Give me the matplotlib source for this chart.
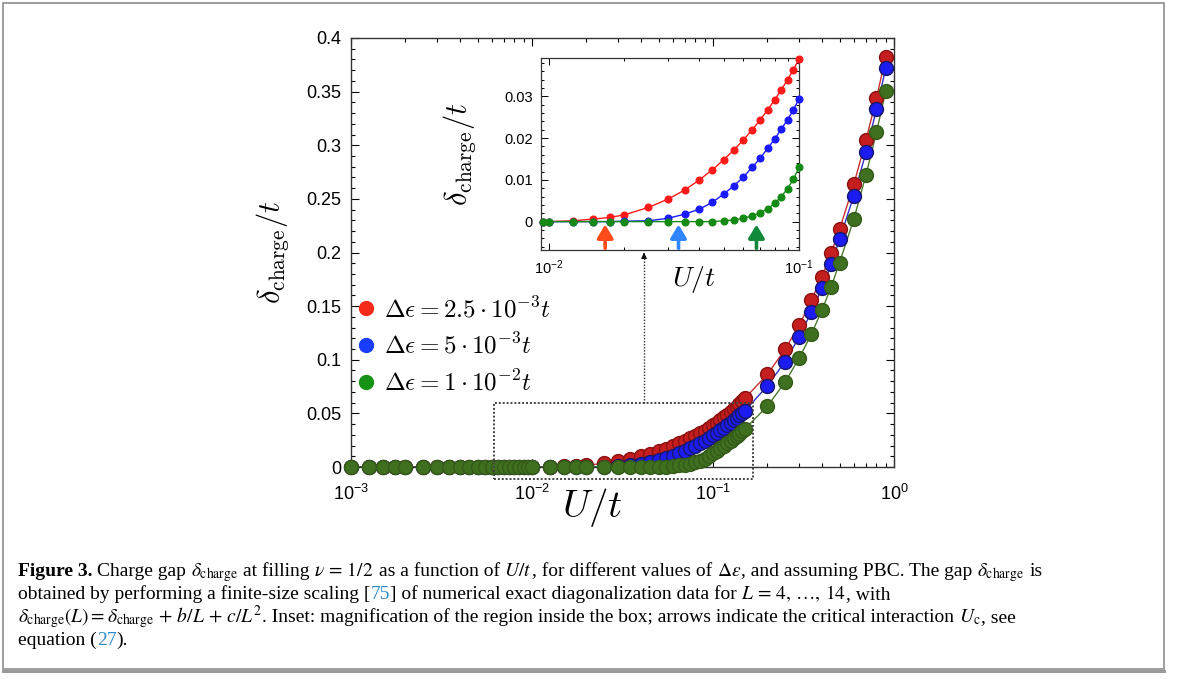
import numpy as np
import matplotlib
matplotlib.use('Agg')
import matplotlib.pyplot as plt
from matplotlib.lines import Line2D
from matplotlib.patches import Rectangle
from matplotlib.ticker import LogLocator, MultipleLocator, FuncFormatter, NullFormatter

plt.rcParams['font.family'] = ['Liberation Sans', 'DejaVu Sans']
plt.rcParams['mathtext.fontset'] = 'cm'

# interaction strength U/t
u_vals = [0.001, 0.00125, 0.0015, 0.00175, 0.002, 0.0025, 0.003, 0.0035, 0.004, 0.0045,
          0.005, 0.0055, 0.006, 0.0065, 0.007, 0.0075, 0.008, 0.0085, 0.009, 0.0095,
          0.01, 0.0125, 0.015, 0.0175, 0.02, 0.025, 0.03, 0.035, 0.04, 0.045,
          0.05, 0.055, 0.06, 0.065, 0.07, 0.075, 0.08, 0.085, 0.09, 0.095,
          0.1, 0.105, 0.11, 0.115, 0.12, 0.125, 0.13, 0.135, 0.14, 0.145,
          0.15, 0.2, 0.25, 0.3, 0.35, 0.4, 0.45, 0.5, 0.6, 0.7, 0.8, 0.9]

# charge gap / t, delta eps = 2.5e-3 t
gap_a = [0.0, 0.0, 0.0, 0.0, 0.0, 0.0, 0.0, 0.0, 0.0, 0.0,
         0.0, 0.0, 0.0, 0.0, 0.0, 0.0, 0.0, 0.0, 0.0, 0.0,
         0.0, 0.0002, 0.0006, 0.0010, 0.0016, 0.0034, 0.0054, 0.0076, 0.0100, 0.0124,
         0.0148, 0.0172, 0.0196, 0.0220, 0.0244, 0.0268, 0.0292, 0.0316, 0.0340, 0.0364,
         0.0390, 0.0414, 0.0438, 0.0462, 0.0487, 0.0512, 0.0537, 0.0562, 0.0587, 0.0613,
         0.0641, 0.0864, 0.1097, 0.1324, 0.1557, 0.1774, 0.1998, 0.2216, 0.2636, 0.3049, 0.3438, 0.3826]
# delta eps = 5e-3 t
gap_b = [0.0, 0.0, 0.0, 0.0, 0.0, 0.0, 0.0, 0.0, 0.0, 0.0,
         0.0, 0.0, 0.0, 0.0, 0.0, 0.0, 0.0, 0.0, 0.0, 0.0,
         0.0, 0.0, 0.0, 0.0, 0.0001, 0.0002, 0.0008, 0.0018, 0.0030, 0.0046,
         0.0066, 0.0086, 0.0107, 0.0130, 0.0152, 0.0176, 0.0198, 0.0222, 0.0244, 0.0268,
         0.0294, 0.0319, 0.0343, 0.0367, 0.0391, 0.0414, 0.0437, 0.0459, 0.0481, 0.0502,
         0.0523, 0.0758, 0.0982, 0.1215, 0.1448, 0.1666, 0.1890, 0.2123, 0.2530, 0.2934, 0.3335, 0.3718]
# delta eps = 1e-2 t
gap_c = [0.0, 0.0, 0.0, 0.0, 0.0, 0.0, 0.0, 0.0, 0.0, 0.0,
         0.0, 0.0, 0.0, 0.0, 0.0, 0.0, 0.0, 0.0, 0.0, 0.0,
         0.0, 0.0, 0.0, 0.0, 0.0, 0.0, 0.0, 0.0, 0.0, 0.0,
         0.0002, 0.0004, 0.0008, 0.0014, 0.0021, 0.0031, 0.0044, 0.0060, 0.0079, 0.0102,
         0.0130, 0.0153, 0.0176, 0.0199, 0.0222, 0.0245, 0.0268, 0.0290, 0.0312, 0.0334,
         0.0355, 0.0568, 0.0790, 0.1019, 0.1240, 0.1464, 0.1681, 0.1905, 0.2312, 0.2723, 0.3121, 0.3506]

labels = [r'$\Delta\epsilon = 2.5\cdot 10^{-3}t$',
          r'$\Delta\epsilon = 5\cdot 10^{-3}t$',
          r'$\Delta\epsilon = 1\cdot 10^{-2}t$']

# critical interaction U_c (arrows in the inset)
u_crit = [0.0168, 0.033, 0.0676]

main_fc = ['#c41e1e', '#1c1cf0', '#3f7020']
main_ec = ['#8a1010', '#16166a', '#345a18']
main_lc = ['#c83030', '#3030c8', '#4a7a2a']
inset_c = ['#ff1a1a', '#1a1aff', '#148a14']
legend_c = ['#f52a1a', '#1a3cff', '#169216']
arrow_c = ['#ff4a1a', '#2f86ff', '#108a3a']

W, H = 1179, 680
fig = plt.figure(figsize=(W / 100, H / 100), dpi=100)

u = np.array(u_vals)
gaps = [np.array(gap_a), np.array(gap_b), np.array(gap_c)]

# ---- main panel
ax = fig.add_axes([351 / W, 1 - 467 / H, (894 - 351) / W, (467 - 38) / H])
for g, fc, ec, lc in zip(gaps, main_fc, main_ec, main_lc):
    ax.plot(u, g, '-', color=lc, lw=1.0, zorder=2, clip_on=False)
    ax.plot(u, g, 'o', ms=10, mfc=fc, mec=ec, mew=1.0, zorder=3, clip_on=False)

ax.set_xscale('log')
ax.set_xlim(1e-3, 1)
ax.set_ylim(0, 0.4)
ax.xaxis.set_major_locator(LogLocator(base=10, numticks=10))
ax.xaxis.set_minor_locator(LogLocator(base=10, subs=np.arange(2, 10), numticks=10))
ax.xaxis.set_minor_formatter(NullFormatter())
ax.yaxis.set_major_locator(MultipleLocator(0.05))
ax.yaxis.set_minor_locator(MultipleLocator(0.01))
ax.yaxis.set_major_formatter(FuncFormatter(lambda v, p: '0' if abs(v) < 1e-9 else '%g' % round(v, 3)))
ax.tick_params(which='both', direction='in', top=True, right=True, width=0.8)
ax.tick_params(which='major', length=6, labelsize=13, pad=7)
ax.tick_params(axis='x', which='major', pad=12)
ax.tick_params(which='minor', length=3)
for s in ax.spines.values():
    s.set_linewidth(1.0)
    s.set_color('#333333')

ax.set_xlabel(r'$U/t$', fontsize=28)
ax.xaxis.set_label_coords(0.444, -0.045)
ax.set_ylabel(r'$\delta_{\rm charge}/t$', fontsize=22)
ax.yaxis.set_label_coords(-0.11, 0.5)

# legend
handles = [Line2D([], [], ls='none', marker='o', ms=10, mfc=c, mec=c) for c in legend_c]
leg = ax.legend(handles, labels, loc='center left', bbox_to_anchor=(358 / W, 1 - 346 / H),
                bbox_transform=fig.transFigure, frameon=False, fontsize=18,
                handlelength=0.6, handletextpad=0.45, labelspacing=0.45, borderpad=0,
                borderaxespad=0)

# box around the magnified region
box_x0, box_x1 = 0.00616, 0.1664
box_y0, box_y1 = -0.0112, 0.0597
ax.add_patch(Rectangle((box_x0, box_y0), box_x1 - box_x0, box_y1 - box_y0, fill=False,
                       ec='#444444', lw=1.4, ls=(0, (1, 1)), zorder=5, clip_on=False))

# dotted pointer from box to inset
ptr_x = 0.0416
inset_bottom_y = (467 - 250) / 1072.5
ax.plot([ptr_x, ptr_x], [box_y1, inset_bottom_y - 0.006], ls=(0, (1, 1.2)), color='#333333',
        lw=1.0, clip_on=False, zorder=5)
ax.annotate('', xy=(ptr_x, inset_bottom_y), xytext=(ptr_x, inset_bottom_y - 0.007),
            arrowprops=dict(arrowstyle='-|>', color='black', lw=0.8, mutation_scale=8),
            annotation_clip=False)

# ---- inset
axi = fig.add_axes([541 / W, 1 - 250 / H, (799 - 541) / W, (250 - 58) / H])
sel = (u >= 0.0095) & (u <= 0.1)
for g, c in zip(gaps, inset_c):
    axi.plot(u[sel], g[sel], '-', color=c, lw=1.0, zorder=2)
    axi.plot(u[sel], g[sel], 'o', ms=4.8, mfc=c, mec=c, zorder=3, clip_on=False)
axi.set_xscale('log')
axi.set_xlim(0.00931, 0.1)
axi.set_ylim(-0.0068, 0.0392)
axi.xaxis.set_major_locator(LogLocator(base=10, numticks=10))
axi.xaxis.set_minor_locator(LogLocator(base=10, subs=np.arange(2, 10), numticks=10))
axi.xaxis.set_minor_formatter(NullFormatter())
axi.yaxis.set_major_locator(MultipleLocator(0.01))
axi.yaxis.set_minor_locator(MultipleLocator(0.002))
axi.yaxis.set_major_formatter(FuncFormatter(lambda v, p: '0' if abs(v) < 1e-9 else '%.2f' % v))
axi.tick_params(which='both', direction='in', top=True, right=True, width=0.7)
axi.tick_params(which='major', length=5, labelsize=10.5, pad=6)
axi.tick_params(which='minor', length=2.5)
for s in axi.spines.values():
    s.set_linewidth(0.9)
    s.set_color('#333333')
axi.set_xlabel(r'$U/t$', fontsize=20)
axi.xaxis.set_label_coords(0.593, -0.075)
axi.set_ylabel(r'$\delta_{\rm charge}/t$', fontsize=22)
axi.yaxis.set_label_coords(-0.245, 0.5)

for uc, c in zip(u_crit, arrow_c):
    axi.annotate('', xy=(uc, -0.0007), xytext=(uc, -0.0064),
                 arrowprops=dict(arrowstyle='-|>,head_length=0.5,head_width=0.3', color=c,
                                 lw=2.6, mutation_scale=16, shrinkA=0, shrinkB=0))

# ---- caption, set piece by piece: (text, colour, weight, space before)
cap_fs = 14
cap_kw = dict(family='Liberation Serif', math_fontfamily='stix', fontsize=cap_fs,
              va='baseline', ha='left')
K, B = 'black', '#2a8ac8'
cap_lines = [
    [('Figure 3.', K, 'bold', False), ('Charge gap', K, 'normal', True),
     (r'$\delta_{\rm charge}$', K, 'normal', True), ('at filling', K, 'normal', True),
     (r'$\nu\,=\,1/2$', K, 'normal', True), ('as a function of', K, 'normal', True),
     (r'$U/t$', K, 'normal', True), (', for different values of', K, 'normal', False),
     (r'$\Delta\epsilon$', K, 'normal', True), (', and assuming PBC. The gap', K, 'normal', False),
     (r'$\delta_{\rm charge}$', K, 'normal', True), ('is', K, 'normal', True)],
    [('obtained by performing a finite-size scaling [', K, 'normal', False),
     ('75', B, 'normal', False),
     ('] of numerical exact diagonalization data for', K, 'normal', False),
     (r'$L\,=\,4,\,\ldots,\,14$', K, 'normal', True), (', with', K, 'normal', False)],
    [(r'$\delta_{\rm charge}(L) = \delta_{\rm charge}\,+\,b/L\,+\,c/L^2$', K, 'normal', False),
     ('. Inset: magnification of the region inside the box; arrows indicate the critical interaction',
      K, 'normal', False),
     (r'$U_{\rm c}$', K, 'normal', True), (', see', K, 'normal', False)],
    [('equation (', K, 'normal', False), ('27', B, 'normal', False), (').', K, 'normal', False)],
]
cap_base = [576, 599, 622, 645]
renderer = fig.canvas.get_renderer()


def text_width(s, weight='normal'):
    t = fig.text(0, 0, s, fontweight=weight, **cap_kw)
    w = t.get_window_extent(renderer).width
    t.remove()
    return w


space_w = text_width('x x') - text_width('xx')
for pieces, yb in zip(cap_lines, cap_base):
    x = 18
    for s, c, w, sp in pieces:
        if sp:
            x += space_w
        t = fig.text(x / W, 1 - yb / H, s, color=c, fontweight=w, **cap_kw)
        x += t.get_window_extent(renderer).width

# outer frame
fig.add_artist(Rectangle((3 / W, 1 - 669 / H), (1164 - 3) / W, (669 - 3) / H,
                         transform=fig.transFigure, fill=False, ec='#8c8c8c', lw=1.2))
fig.add_artist(Line2D([3 / W, 1164 / W], [1 - 670.5 / H, 1 - 670.5 / H],
                      transform=fig.transFigure, color='#9a9a9a', lw=2.2))

fig.savefig('out.png', dpi=100)
